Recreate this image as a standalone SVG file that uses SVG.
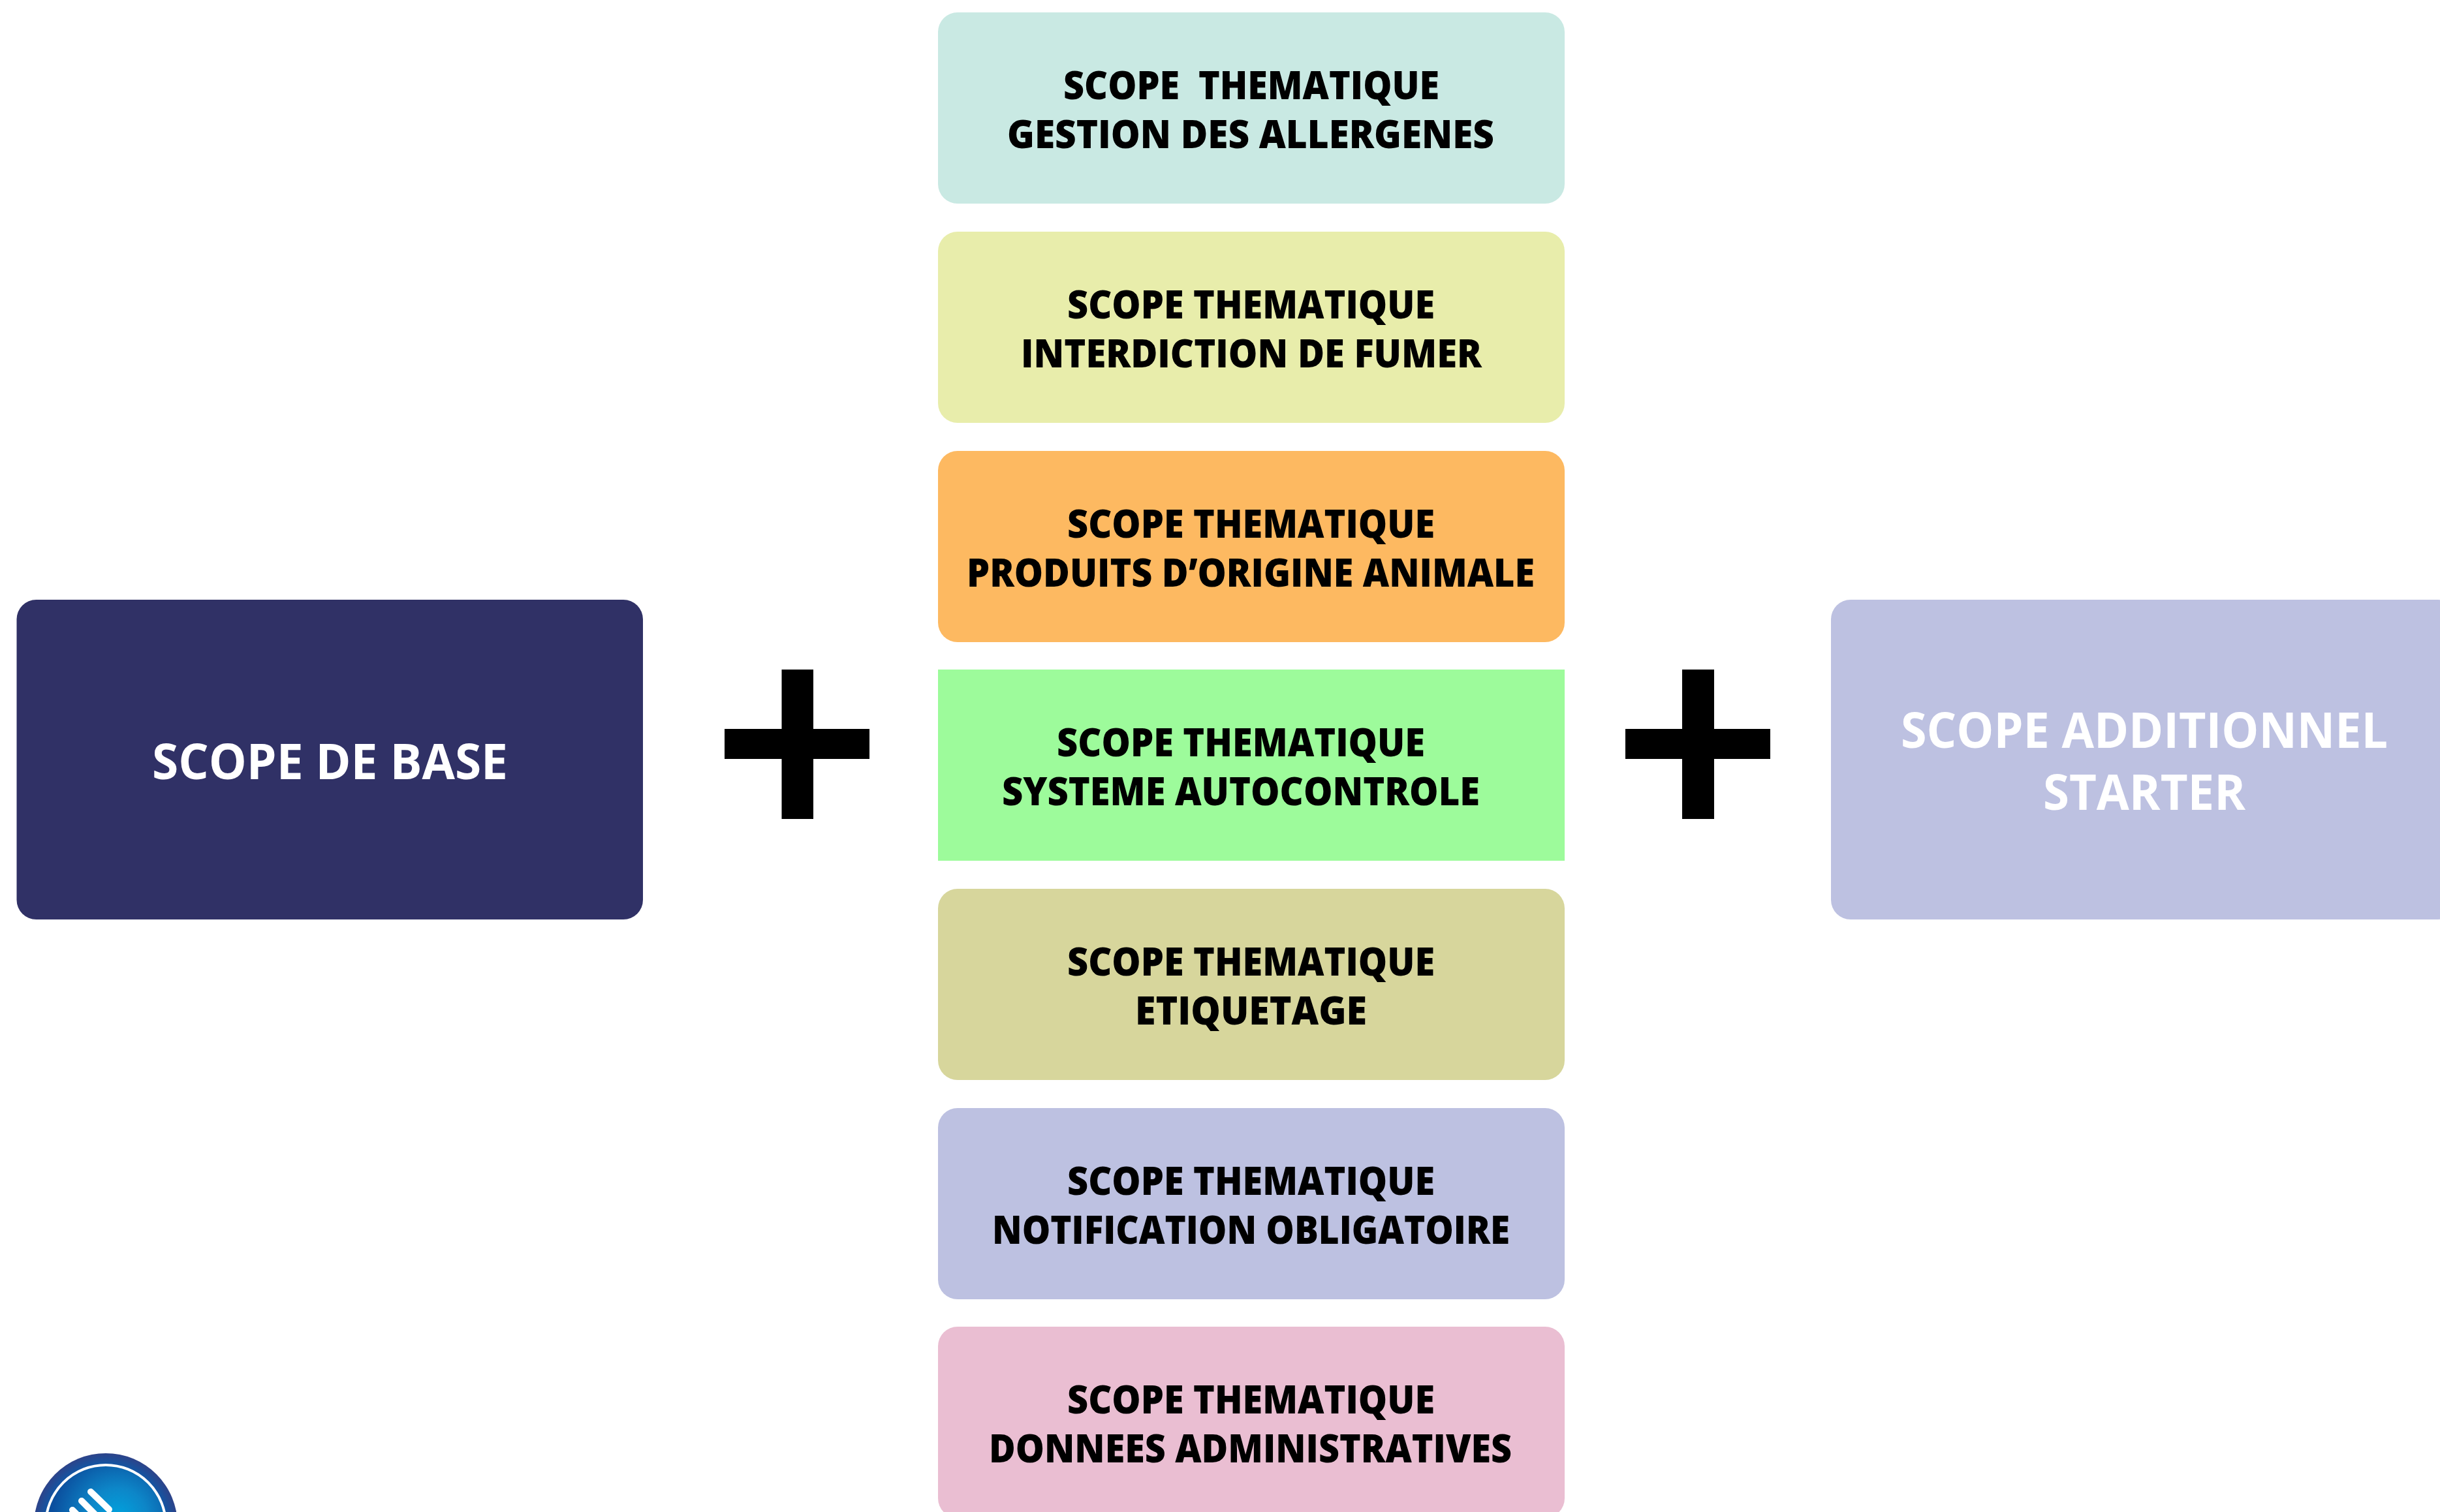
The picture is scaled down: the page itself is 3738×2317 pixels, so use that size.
<svg xmlns="http://www.w3.org/2000/svg" width="3738" height="2317" viewBox="0 0 3738 2317">
<style>
text{font-family:"Open Sans","Noto Sans","Liberation Sans",sans-serif;font-weight:700;white-space:pre}
.t{font-size:61px;font-weight:800;fill:#000}
.w{font-size:76px;fill:#fff}
.plus{fill:#000}
</style>
<defs>
<radialGradient id="ringGrad" gradientUnits="userSpaceOnUse" cx="162" cy="2337" r="110">
<stop offset="0.8" stop-color="#0a5bab"/><stop offset="1" stop-color="#2d4389"/>
</radialGradient>
<radialGradient id="discGrad" gradientUnits="userSpaceOnUse" cx="180" cy="2325" r="100">
<stop offset="0" stop-color="#00a3de"/><stop offset="0.45" stop-color="#0d86c8"/><stop offset="1" stop-color="#0b4f9e"/>
</radialGradient>
</defs>
<rect width="3738" height="2317" fill="#fff"/>
<g id="scope-base">
<rect x="25.500" y="919" width="959.500" height="490" rx="30" fill="#303166"/>
<text class="w" x="233" y="1194" textLength="545" lengthAdjust="spacingAndGlyphs">SCOPE DE BASE</text>
</g>
<g id="scope-allergenes">
<rect x="1437" y="19" width="960" height="293" rx="30" fill="#c9e9e3"/>
<text class="t" x="1629" y="152" textLength="576" lengthAdjust="spacingAndGlyphs">SCOPE  THEMATIQUE</text>
<text class="t" x="1543" y="227" textLength="746" lengthAdjust="spacingAndGlyphs">GESTION DES ALLERGENES</text>
</g>
<g id="scope-fumer">
<rect x="1437" y="355" width="960" height="293" rx="30" fill="#e8edab"/>
<text class="t" x="1635" y="488" textLength="563" lengthAdjust="spacingAndGlyphs">SCOPE THEMATIQUE</text>
<text class="t" x="1564" y="563" textLength="706" lengthAdjust="spacingAndGlyphs">INTERDICTION DE FUMER</text>
</g>
<g id="scope-animale">
<rect x="1437" y="691" width="960" height="293" rx="30" fill="#fdb961"/>
<text class="t" x="1635" y="824" textLength="563" lengthAdjust="spacingAndGlyphs">SCOPE THEMATIQUE</text>
<text class="t" x="1481" y="899" textLength="870" lengthAdjust="spacingAndGlyphs">PRODUITS D’ORIGINE ANIMALE</text>
</g>
<g id="scope-autocontrole">
<rect x="1437" y="1026" width="960" height="293" fill="#9dfb9b"/>
<text class="t" x="1619" y="1159" textLength="564" lengthAdjust="spacingAndGlyphs">SCOPE THEMATIQUE</text>
<text class="t" x="1535" y="1234" textLength="732" lengthAdjust="spacingAndGlyphs">SYSTEME AUTOCONTROLE</text>
</g>
<g id="scope-etiquetage">
<rect x="1437" y="1362" width="960" height="293" rx="30" fill="#d7d69c"/>
<text class="t" x="1635" y="1495" textLength="563" lengthAdjust="spacingAndGlyphs">SCOPE THEMATIQUE</text>
<text class="t" x="1739" y="1570" textLength="355" lengthAdjust="spacingAndGlyphs">ETIQUETAGE</text>
</g>
<g id="scope-notification">
<rect x="1437" y="1698" width="960" height="293" rx="30" fill="#bdc1e1"/>
<text class="t" x="1635" y="1831" textLength="563" lengthAdjust="spacingAndGlyphs">SCOPE THEMATIQUE</text>
<text class="t" x="1520" y="1906" textLength="793" lengthAdjust="spacingAndGlyphs">NOTIFICATION OBLIGATOIRE</text>
</g>
<g id="scope-administratives">
<rect x="1437" y="2033" width="960" height="293" rx="30" fill="#eabed2"/>
<text class="t" x="1635" y="2166" textLength="563" lengthAdjust="spacingAndGlyphs">SCOPE THEMATIQUE</text>
<text class="t" x="1515" y="2241" textLength="801" lengthAdjust="spacingAndGlyphs">DONNEES ADMINISTRATIVES</text>
</g>
<g id="scope-additionnel">
<rect x="2805" y="919" width="960" height="490" rx="30" fill="#bdc1e1"/>
<text class="w" x="2912" y="1146" textLength="746" lengthAdjust="spacingAndGlyphs">SCOPE ADDITIONNEL</text>
<text class="w" x="3130" y="1241" textLength="310" lengthAdjust="spacingAndGlyphs">STARTER</text>
</g>
<g id="connectors">
<path id="plus-left" class="plus" d="M1197.500 1026H1246V1117H1332V1163H1246V1255H1197.500V1163H1110V1117H1197.500Z"/>
<path id="plus-right" class="plus" d="M2577 1026H2626V1117H2712V1163H2626V1255H2577V1163H2490V1117H2577Z"/>
</g>
<g id="logo">
<circle cx="162" cy="2337" r="110" fill="url(#ringGrad)"/>
<circle cx="162" cy="2337" r="92" fill="url(#discGrad)" stroke="#fff" stroke-width="4"/>
<path d="M139 2286L167 2313M125 2300L150 2325M111 2314L130 2333" fill="none" stroke="#fff" stroke-width="10" stroke-linecap="round"/>
</g>
</svg>
